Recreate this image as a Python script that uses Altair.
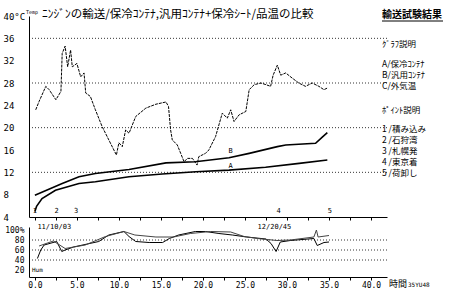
import altair as alt
import pandas as pd

# ---------------- data ----------------
# C: outside air temperature (dashed)
x_c = [0.1, 0.5, 1.3, 1.7, 2.5, 3.1, 3.25, 3.6, 3.9, 4.25, 4.45, 5.0, 5.45, 5.85, 6.05,
       6.6, 7.2, 8.0, 8.8, 9.4, 9.7, 10.0, 10.4, 10.8, 11.2, 12.0, 13.2, 14.4, 15.6, 15.9,
       16.15, 16.35, 16.95, 17.35, 17.75, 18.15, 18.75, 19.3, 19.5, 20.3, 20.7, 21.5, 21.9,
       22.3, 22.9, 23.3, 23.7, 24.3, 25.1, 25.5, 26.1, 26.9, 27.5, 28.05, 28.35, 28.85,
       29.25, 29.85, 30.6, 31.4, 32.2, 33.0, 33.8, 34.4, 34.8]
t_c = [23.2, 24.7, 27.4, 26.8, 25.0, 26.5, 33.3, 34.6, 30.9, 33.9, 30.9, 31.5, 29.1, 29.8, 26.2,
       25.6, 23.2, 20.2, 17.8, 16.0, 15.1, 17.3, 16.6, 19.6, 19.0, 22.0, 23.5, 24.2, 24.6, 23.8,
       19.6, 17.8, 16.9, 15.4, 13.9, 14.5, 14.5, 13.3, 14.8, 15.4, 16.0, 18.4, 20.5,
       22.6, 21.7, 23.2, 21.1, 22.3, 22.9, 26.8, 27.7, 28.0, 27.7, 27.4, 29.4, 31.2,
       29.4, 29.8, 28.9, 28.0, 27.4, 28.0, 27.4, 26.8, 27.1]
# B: general container + cold sheet
x_b = [0.0, 3.25, 5.25, 7.2, 11.2, 15.6, 19.1, 23.1, 25.5, 28.85, 29.85, 33.4, 34.2, 34.8]
t_b = [7.9, 10.0, 11.2, 11.8, 12.5, 13.7, 13.9, 14.6, 15.4, 16.6, 16.9, 17.2, 18.3, 19.1]
# A: cold container
x_a = [0.0, 0.2, 0.85, 2.45, 5.25, 7.2, 11.2, 15.15, 19.15, 23.1, 27.45, 31.45, 34.8]
t_a = [5.0, 5.9, 7.3, 8.8, 10.0, 10.3, 11.2, 11.7, 12.1, 12.4, 12.9, 13.6, 14.2]

# humidity
x_h1 = [0.3, 0.7, 1.1, 2.6, 3.2, 3.6, 4.6, 7.6, 8.8, 10.6, 11.2, 12.0, 13.6, 15.2, 16.0,
        17.1, 19.1, 20.3, 21.9, 23.5, 25.2, 27.5, 28.1, 28.7, 29.2, 30.4, 33.2, 33.6, 34.4, 35.0]
h1 = [43, 60, 70, 77, 57, 60, 66, 77, 90, 97, 87, 77, 75, 75, 83,
      90, 97, 97, 93, 90, 86, 82, 73, 57, 76, 79, 83, 69, 75, 76]
x_h2 = [0.5, 1.5, 2.2, 3.6, 6.0, 8.4, 10.6, 11.9, 14.4, 16.5, 18.5, 20.9, 23.3, 24.9, 26.5,
        28.8, 30.4, 33.2, 33.5, 33.7, 35.0]
h2 = [68, 74, 78, 63, 70, 87, 97, 90, 86, 86, 93, 97, 96, 87, 83,
      79, 80, 86, 100, 86, 89]

temp_ticks = [4, 8, 12, 16, 20, 24, 28, 32, 36, 40]
temp_grid = [12, 20, 28, 36]
hum_ticks = [20, 40, 60, 80, 100]
hum_grid = [40, 60, 80]
x_ticks = [i * 2.5 for i in range(17)]

event_x = [0.0, 2.6, 4.9, 29.0, 35.1]
event_lab = ["1", "2", "3", "4", "5"]
date_x = [0.3, 26.5]
date_lab = ["11/10/03", "12/20/45"]
curve_lab = ["B", "A"]
curve_lab_x = [23.3, 23.3]
curve_lab_t = [15.8, 13.2]

title_text = "ﾆﾝｼﾞﾝの輸送/保冷ｺﾝﾃﾅ,汎用ｺﾝﾃﾅ+保冷ｼｰﾄ/品温の比較"
legend_header = "輸送試験結果"
legend_lines = ["ｸﾞﾗﾌ説明", "A/保冷ｺﾝﾃﾅ", "B/汎用ｺﾝﾃﾅ", "C/外気温", "ﾎﾟｲﾝﾄ説明",
                "1 /積み込み", "2 /石狩湾", "3 /札幌発", "4 /東京着", "5 /荷卸し"]

# ---------------- layout ----------------
W = 358
H_TOP = 201
H_BOT = 50
MONO = "DejaVu Sans Mono"
JP = "Noto Sans CJK JP"

xscale = alt.Scale(domain=[-0.7, 41.9], nice=False, zero=False)
tscale = alt.Scale(domain=[4, 40], nice=False, zero=False)
hscale = alt.Scale(domain=[6, 106], nice=False, zero=False)

x_top = alt.X("x:Q", scale=xscale, title=None,
              axis=alt.Axis(values=x_ticks, labels=False, tickSize=3, grid=False,
                            domainColor="black", tickColor="black"))
y_top = alt.Y("t:Q", scale=tscale, title=None,
              axis=alt.Axis(values=temp_ticks, grid=False, ticks=False, labelAlign="left",
                            labelPadding=26, labelFont=MONO, labelFontSize=9,
                            labelColor="black", domainColor="black",
                            labelExpr="datum.value == 40 ? '40°C' : datum.label"))


def line(xs, ys, **kw):
    d = pd.DataFrame({"x": xs, "t": ys})
    return alt.Chart(d).mark_line(color="black", interpolate="linear", **kw).encode(x=x_top, y=y_top)


grid_top = alt.Chart(pd.DataFrame({"t": temp_grid})).mark_rule(
    color="black", strokeDash=[1, 2], strokeWidth=0.8).encode(y=y_top)

lc = line(x_c, t_c, strokeWidth=1, strokeDash=[3, 1])
lb = line(x_b, t_b, strokeWidth=1.6)
la = line(x_a, t_a, strokeWidth=1.6)

ev = alt.Chart(pd.DataFrame({"x": event_x, "lab": event_lab})).mark_text(
    font=MONO, fontSize=7, color="black", baseline="middle").encode(
    x=x_top, y=alt.value(H_TOP - 6), text="lab:N")
dates = alt.Chart(pd.DataFrame({"x": date_x, "lab": date_lab})).mark_text(
    font=MONO, fontSize=7, color="black", align="left", baseline="middle").encode(
    x=x_top, y=alt.value(H_TOP + 10), text="lab:N")
clab = alt.Chart(pd.DataFrame({"x": curve_lab_x, "t": curve_lab_t, "lab": curve_lab})).mark_text(
    font=MONO, fontSize=7, color="black").encode(x=x_top, y=y_top, text="lab:N")

title = alt.Chart(pd.DataFrame({"lab": [title_text]})).mark_text(
    font=JP, fontSize=11.5, color="black", align="left", baseline="middle").encode(
    x=alt.value(13), y=alt.value(-1), text="lab:N")
temp_sup = alt.Chart(pd.DataFrame({"lab": ["Temp"]})).mark_text(
    font=MONO, fontSize=5, color="black", align="left", baseline="middle").encode(
    x=alt.value(-3), y=alt.value(-4), text="lab:N")

header = alt.Chart(pd.DataFrame({"lab": [legend_header]})).mark_text(
    font=JP, fontSize=10, fontWeight="bold", color="black", align="left", baseline="middle").encode(
    x=alt.value(353), y=alt.value(-1), text="lab:N")
header_line = alt.Chart(pd.DataFrame({"lab": [legend_header]})).mark_rule(
    color="black", strokeWidth=1).encode(x=alt.value(353), x2=alt.value(414), y=alt.value(5))

legend_y = [28, 48, 59, 70, 94, 113, 124, 135, 146, 157]
legend_layers = []
for txt, yy in zip(legend_lines, legend_y):
    legend_layers.append(
        alt.Chart(pd.DataFrame({"lab": [txt]})).mark_text(
            font=JP, fontSize=8.5, color="black", align="left", baseline="middle").encode(
            x=alt.value(353), y=alt.value(yy), text="lab:N"))

top = alt.layer(grid_top, lc, lb, la, ev, dates, clab, title, temp_sup, header, header_line,
                *legend_layers).properties(width=W, height=H_TOP)

# ---------------- bottom (humidity) ----------------
x_bot = alt.X("x:Q", scale=xscale, title=None,
              axis=alt.Axis(values=x_ticks, tickSize=3, labelPadding=1, grid=False,
                            labelFont=MONO, labelFontSize=8, labelColor="black",
                            labelOverlap=False, labelFlush=False,
                            domainColor="black", tickColor="black",
                            labelExpr="datum.value % 5 == 0 ? format(datum.value, '.1f') : ''"))
y_bot = alt.Y("h:Q", scale=hscale, title=None,
              axis=alt.Axis(values=hum_ticks, grid=False, ticks=False, labelAlign="right",
                            labelPadding=5, labelFont=MONO, labelFontSize=8,
                            labelColor="black", domainColor="black",
                            labelExpr="datum.value == 100 ? '100%' : datum.label"))

grid_bot = alt.Chart(pd.DataFrame({"h": hum_grid})).mark_rule(
    color="black", strokeDash=[1, 2], strokeWidth=0.8).encode(y=y_bot)
lh1 = alt.Chart(pd.DataFrame({"x": x_h1, "h": h1})).mark_line(
    color="black", strokeWidth=1).encode(x=x_bot, y=y_bot)
lh2 = alt.Chart(pd.DataFrame({"x": x_h2, "h": h2})).mark_line(
    color="#444444", strokeWidth=1).encode(x=x_bot, y=y_bot)
hum_lab = alt.Chart(pd.DataFrame({"lab": ["Hum"]})).mark_text(
    font=MONO, fontSize=6, color="black", align="left", baseline="middle").encode(
    x=alt.value(3), y=alt.value(43), text="lab:N")
unit_lab = alt.Chart(pd.DataFrame({"lab": ["時間"]})).mark_text(
    font=JP, fontSize=9, color="black", align="left", baseline="middle").encode(
    x=alt.value(360), y=alt.value(57), text="lab:N")
code_lab = alt.Chart(pd.DataFrame({"lab": ["35YU48"]})).mark_text(
    font=MONO, fontSize=6, color="black", align="left", baseline="middle").encode(
    x=alt.value(379), y=alt.value(58), text="lab:N")

bot = alt.layer(grid_bot, lh1, lh2, hum_lab, unit_lab, code_lab).properties(width=W, height=H_BOT)

chart = alt.vconcat(top, bot, spacing=10, bounds="flush").properties(
    padding={"left": 3, "top": 9, "right": 0, "bottom": 0},
    background="white",
).configure_view(stroke=None)

chart.save("out.html", embed_options={"renderer": "svg", "actions": False})
